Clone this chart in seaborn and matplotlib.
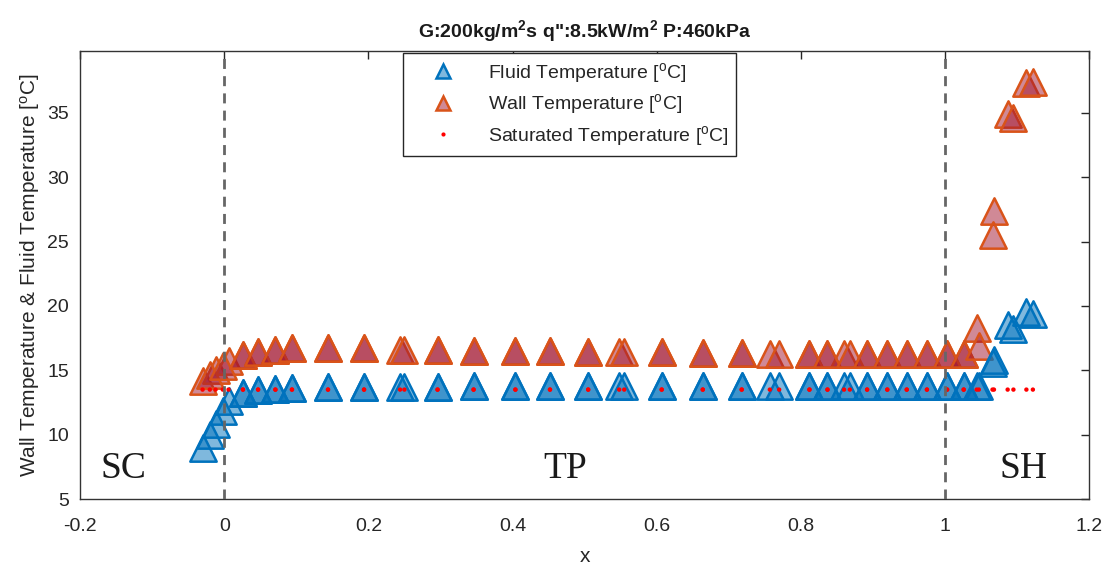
import matplotlib
matplotlib.use("Agg")
import matplotlib.pyplot as plt
from matplotlib.lines import Line2D
import seaborn as sns
import pandas as pd

# ---------------- data ----------------
# run A
x_a = [-0.030, -0.012, 0.006, 0.026, 0.047, 0.071, 0.094, 0.144, 0.194, 0.244,
       0.296, 0.346, 0.404, 0.452, 0.505, 0.548, 0.607, 0.664, 0.718, 0.757,
       0.812, 0.837, 0.860, 0.892, 0.920, 0.947, 0.975, 1.003, 1.026, 1.044,
       1.068, 1.087, 1.113]
fluid_a = [9.0, 10.8, 12.6, 13.2, 13.45, 13.55, 13.65, 13.7, 13.7, 13.7,
           13.7, 13.75, 13.75, 13.75, 13.75, 13.75, 13.75, 13.75, 13.75, 13.75,
           13.75, 13.75, 13.75, 13.75, 13.75, 13.75, 13.75, 13.75, 13.75, 13.8,
           15.8, 18.5, 19.5]
wall_a = [14.2, 15.0, 15.7, 16.2, 16.45, 16.6, 16.7, 16.75, 16.7, 16.6,
          16.55, 16.5, 16.5, 16.5, 16.45, 16.4, 16.4, 16.35, 16.35, 16.3,
          16.3, 16.3, 16.3, 16.3, 16.3, 16.3, 16.3, 16.25, 16.25, 18.3,
          27.4, 34.9, 37.3]
sat_a = [13.5, 13.5, 13.5, 13.5, 13.5, 13.5, 13.5, 13.5, 13.5, 13.5,
         13.5, 13.5, 13.5, 13.5, 13.5, 13.5, 13.5, 13.5, 13.5, 13.5,
         13.5, 13.5, 13.5, 13.5, 13.5, 13.5, 13.5, 13.5, 13.5, 13.5,
         13.5, 13.5, 13.5]

# run B
x_b = [-0.020, -0.002, 0.026, 0.047, 0.071, 0.094, 0.144, 0.194, 0.250, 0.296,
       0.346, 0.404, 0.452, 0.505, 0.555, 0.607, 0.664, 0.718, 0.770, 0.812,
       0.837, 0.868, 0.892, 0.920, 0.947, 0.975, 1.003, 1.026, 1.047, 1.066,
       1.095, 1.122]
fluid_b = [10.0, 11.8, 13.2, 13.45, 13.55, 13.65, 13.7, 13.7, 13.7, 13.7,
           13.75, 13.75, 13.75, 13.75, 13.75, 13.75, 13.75, 13.75, 13.75, 13.75,
           13.75, 13.75, 13.75, 13.75, 13.75, 13.75, 13.75, 13.75, 13.8, 15.6,
           18.2, 19.4]
wall_b = [14.6, 15.3, 16.2, 16.45, 16.6, 16.7, 16.75, 16.7, 16.6, 16.55,
          16.5, 16.5, 16.5, 16.45, 16.4, 16.4, 16.35, 16.35, 16.3, 16.3,
          16.3, 16.3, 16.3, 16.3, 16.3, 16.3, 16.25, 16.25, 16.9, 25.5,
          34.6, 37.4]
sat_b = [13.5, 13.5, 13.5, 13.5, 13.5, 13.5, 13.5, 13.5, 13.5, 13.5,
         13.5, 13.5, 13.5, 13.5, 13.5, 13.5, 13.5, 13.5, 13.5, 13.5,
         13.5, 13.5, 13.5, 13.5, 13.5, 13.5, 13.5, 13.5, 13.5, 13.5,
         13.5, 13.5]

x_ticks = [-0.2, 0, 0.2, 0.4, 0.6, 0.8, 1, 1.2]
x_tick_labels = ["-0.2", "0", "0.2", "0.4", "0.6", "0.8", "1", "1.2"]
y_ticks = [5, 10, 15, 20, 25, 30, 35]
region_labels = ["SC", "TP", "SH"]
region_x = [-0.14, 0.473, 1.109]
region_y = [7.35, 7.35, 7.35]
boundaries = [0, 1]

title = "G:200kg/m$^2$s q\":8.5kW/m$^2$ P:460kPa"
ylabel = "Wall Temperature & Fluid Temperature [$^{o}$C]"
legend_labels = ["Fluid Temperature [$^{o}$C]", "Wall Temperature [$^{o}$C]",
                 "Saturated Temperature [$^{o}$C]"]

# ---------------- styling ----------------
sns.set_theme(style="white")
plt.rcParams["font.family"] = ["Liberation Sans", "DejaVu Sans"]
plt.rcParams["mathtext.default"] = "regular"
plt.rcParams["axes.unicode_minus"] = False

blue = (0.0, 0.447, 0.741)
wall_face = (0.635, 0.078, 0.184)
wall_edge = (0.85, 0.325, 0.098)

df_f = pd.DataFrame({"x": x_a + x_b, "T": fluid_a + fluid_b})
df_w = pd.DataFrame({"x": x_a + x_b, "T": wall_a + wall_b})
df_s = pd.DataFrame({"x": x_a + x_b, "T": sat_a + sat_b})

fig = plt.figure(figsize=(11.12, 5.69), dpi=100)
ax = fig.add_axes([0.072, 0.123, 0.9074, 0.7873])

sns.scatterplot(data=df_w, x="x", y="T", marker="^", s=360,
                facecolor=(*wall_face, 0.5), edgecolor=wall_edge,
                linewidth=1.8, ax=ax, legend=False)
sns.scatterplot(data=df_f, x="x", y="T", marker="^", s=360,
                facecolor=(*blue, 0.5), edgecolor=blue,
                linewidth=1.8, ax=ax, legend=False)
sns.scatterplot(data=df_s, x="x", y="T", marker="o", s=10,
                color="red", edgecolor="none", linewidth=0, ax=ax, legend=False)

for b in boundaries:
    ax.axvline(b, color="0.4", lw=2, ls=(0, (3.6, 2.6)), zorder=3)

for lab, xx, yy in zip(region_labels, region_x, region_y):
    ax.text(xx, yy, lab, fontsize=27, family="Liberation Serif",
            color="0.1", ha="center", va="center")

ax.set_xlim(-0.2, 1.2)
ax.set_ylim(5, 39.8)
ax.set_xticks(x_ticks)
ax.set_xticklabels(x_tick_labels)
ax.set_yticks(y_ticks)
ax.tick_params(direction="in", length=6, width=1, colors="0.15",
               labelsize=14, top=True, right=True)
ax.tick_params(axis="x", labeltop=False, pad=14)
ax.tick_params(axis="y", labelright=False, pad=8)
for sp in ax.spines.values():
    sp.set_color("0.2")
    sp.set_linewidth(1.0)

ax.set_xlabel("x", fontsize=15, color="0.15", labelpad=8)
ax.set_ylabel(ylabel, fontsize=15, color="0.15")
ax.set_title(title, fontsize=14, fontweight="bold", color="0.1", pad=10)

handles = [
    Line2D([], [], ls="none", marker="^", ms=10, mfc=(*blue, 0.5), mec=blue, mew=1.8),
    Line2D([], [], ls="none", marker="^", ms=10, mfc=(*wall_face, 0.5), mec=wall_edge, mew=1.8),
    Line2D([], [], ls="none", marker="o", ms=3, mfc="red", mec="none"),
]
leg = ax.legend(handles, legend_labels, loc="upper left",
                bbox_to_anchor=(0.32, 0.996), borderaxespad=0,
                fontsize=14, frameon=True,
                fancybox=False, framealpha=1, edgecolor="0.15",
                handlelength=3.3, handletextpad=0.65, borderpad=0.4,
                labelspacing=0.4)
leg.get_frame().set_linewidth(1.0)
for t in leg.get_texts():
    t.set_color("0.15")

fig.savefig("out.png", dpi=100)
